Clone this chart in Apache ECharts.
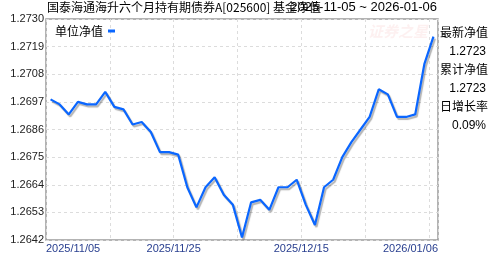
<!DOCTYPE html>
<html>
<head>
<meta charset="utf-8">
<script src="https://cdn.jsdelivr.net/npm/echarts@6/dist/echarts.min.js"></script>
<style>html,body{margin:0;padding:0;background:#fff;}#c{width:488px;height:255px;}</style>
</head>
<body>
<div id="c"></div>
<script>
var dates = ['2025/11/05','2025/11/06','2025/11/07','2025/11/10','2025/11/11','2025/11/12','2025/11/13','2025/11/14',
'2025/11/17','2025/11/18','2025/11/19','2025/11/20','2025/11/21','2025/11/24','2025/11/25','2025/11/26','2025/11/27','2025/11/28',
'2025/12/01','2025/12/02','2025/12/03','2025/12/04','2025/12/05','2025/12/08','2025/12/09','2025/12/10','2025/12/11','2025/12/12',
'2025/12/15','2025/12/16','2025/12/17','2025/12/18','2025/12/19','2025/12/22','2025/12/23','2025/12/24','2025/12/25','2025/12/26',
'2025/12/29','2025/12/30','2025/12/31','2026/01/05','2026/01/06'];
var nav = [1.2698,1.2696,1.2692,1.2697,1.2696,1.2696,1.2701,1.2695,1.2694,1.2688,1.2689,1.2685,1.2677,1.2677,1.2676,1.2663,1.2655,1.2663,
1.2667,1.2660,1.2656,1.2643,1.2657,1.2658,1.2654,1.2663,1.2663,1.2666,1.2656,1.2648,1.2663,1.2666,1.2675,1.2681,1.2686,1.2691,1.2702,1.2700,
1.2691,1.2691,1.2692,1.2712,1.2723];
var yTickBase = 1.2642, yTickStep = 0.0011, yTickCount = 8;
var xLabelIdx = [0, 14, 28];
var titleText = '国泰海通海升六个月持有期债券A[025600] 基金净值';
var rangeText = '2025-11-05 ~ 2026-01-06';
var sideLabels = ['最新净值','累计净值','日增长率'];
var sideValues = ['1.2723','1.2723','0.09%'];

var n = dates.length;
var seriesData = nav.map(function(v, i){ return [i + 0.5, +(v - yTickBase).toFixed(6)]; });

var chart = echarts.init(document.getElementById('c'), null, {renderer:'canvas'});
var fontCJK = '"Noto Sans CJK SC", "Liberation Sans", sans-serif';
var fontLat = '"Liberation Sans", Arial, sans-serif';
var graphics = [
  {type:'text', left:47, top:1, style:{text:titleText, font:'12px ' + fontCJK, fill:'#000'}},
  {type:'text', right:51, top:1, style:{text:rangeText, font:'13px ' + fontLat, fill:'#000'}},
  {type:'text', left:368, top:24, style:{text:'证券之星', font:'italic bold 15px ' + fontCJK, fill:'rgba(240,130,130,0.12)'}}
];
sideLabels.forEach(function(t, k){
  graphics.push({type:'text', left:440, top:26 + k*37, style:{text:t, font:'12px ' + fontCJK, fill:'#000'}});
  graphics.push({type:'text', right:2, top:46 + k*37, style:{text:sideValues[k], font:'12px ' + fontLat, fill:'#000', align:'right'}});
});

chart.setOption({
  animation:false,
  grid:{left:46, right:50, top:19, bottom:15, show:true, borderColor:'#9a9a9a', borderWidth:1.5, backgroundColor:'#fff'},
  legend:{
    left:50, top:20, data:['单位净值'], align:'right', icon:'rect', itemWidth:7, itemHeight:3, itemGap:4,
    textStyle:{fontSize:12, fontFamily:fontCJK, color:'#000', padding:[0,0,0,0]},
    itemStyle:{color:'#0a66ff'}
  },
  xAxis:{
    type:'value', min:0, max:n, interval:7,
    axisLine:{show:false}, axisTick:{show:false},
    splitLine:{show:true, lineStyle:{color:'#dcdcdc', type:[3,3], width:1}},
    axisLabel:{
      margin:3, fontSize:11, fontFamily:fontLat, color:'#2a4090',
      showMinLabel:true, showMaxLabel:true, alignMinLabel:'left', alignMaxLabel:'right',
      formatter:function(v){
        if (v >= n) return dates[n-1];
        var i = Math.round(v);
        return xLabelIdx.indexOf(i) >= 0 ? dates[i] : '';
      }
    }
  },
  yAxis:{
    type:'value', min:0, max:+(yTickStep*yTickCount).toFixed(6), interval:yTickStep,
    axisLine:{show:false}, axisTick:{show:false},
    splitLine:{show:true, lineStyle:{color:'#dcdcdc', type:[3,3], width:1}},
    axisLabel:{margin:2, fontSize:11, fontFamily:fontLat, color:'#222',
      formatter:function(v){ return (yTickBase + v).toFixed(4); }}
  },
  graphic:graphics,
  series:[{
    name:'单位净值', type:'line', data:seriesData, showSymbol:false, symbol:'none',
    lineStyle:{color:'#0a66ff', width:2.2, shadowColor:'rgba(0,0,0,0.3)', shadowOffsetX:1.5, shadowOffsetY:2, shadowBlur:1},
    itemStyle:{color:'#0a66ff'}
  }]
});
</script>
</body>
</html>
